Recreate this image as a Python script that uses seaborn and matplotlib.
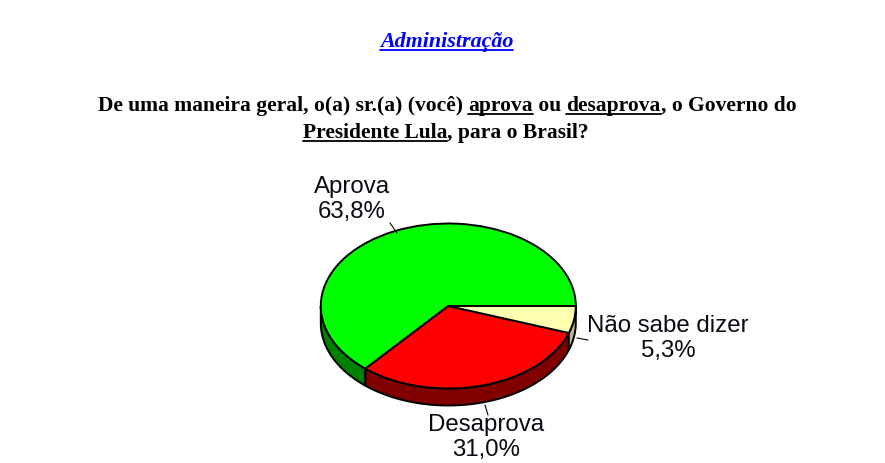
import numpy as np
import matplotlib
matplotlib.use("Agg")
import matplotlib.pyplot as plt
from matplotlib.lines import Line2D
from matplotlib.transforms import Affine2D
import seaborn as sns

categories = ["Aprova", "Desaprova", "Não sabe dizer"]
values = [63.8, 31.0, 5.3]
value_labels = ["63,8%", "31,0%", "5,3%"]
top_colors = ["#00FF00", "#FF0000", "#FFFFB0"]
wall_colors = ["#008000", "#800000", "#B8B894"]

title_text = "Administração"
line1 = [("De uma maneira geral, o(a) sr.(a) (você) ", False), ("aprova", True), (" ou ", False),
         ("desaprova", True), (", o Governo do", False)]
line2 = [("Presidente Lula", True), (", para o Brasil?", False)]

W, H = 885, 463
sns.set_theme(style="white")
fig = plt.figure(figsize=(W / 100, H / 100), dpi=100, facecolor="white")
px = Affine2D().scale(1, -1).translate(0, H)

cx, cy, rx, ry, depth = 448.3, 306.0, 127.5, 82.5, 17.0
ax = fig.add_axes([(cx - rx) / W, (H - cy - ry - depth) / H, 2 * rx / W, (2 * ry + depth) / H])
d = depth / ry
ax.pie(values, colors=top_colors, startangle=0, counterclock=True,
       wedgeprops=dict(edgecolor="black", linewidth=1.4, clip_on=False, zorder=3))
ax.set_aspect("auto")
ax.set_xlim(-1, 1)
ax.set_ylim(-1 - d, 1)

# Side wall of the disc, from the same shares as the top
shares = np.array(values) / sum(values) * 360
edges = np.concatenate([[0], np.cumsum(shares)])
for a0, a1, col in zip(edges[:-1], edges[1:], wall_colors):
    lo, hi = max(a0, 180), min(a1, 360)
    if hi <= lo:
        continue
    th = np.radians(np.linspace(lo, hi, 80))
    xs = np.concatenate([np.cos(th), np.cos(th[::-1])])
    ys = np.concatenate([np.sin(th), np.sin(th[::-1]) - d])
    ax.fill(xs, ys, facecolor=col, edgecolor="black", linewidth=1.4, clip_on=False, zorder=2)

# Pie labels
label_font = dict(family="Liberation Sans", fontsize=17.3, color="#0a0a14", transform=px,
                  ha="center", va="baseline")
label_pos = [(352, 193), (486, 431), (668, 332)]
for name, val, (x, y) in zip(categories, value_labels, label_pos):
    fig.text(x, y, name, **label_font)
    fig.text(x, y + 25, val, **label_font)

for (x0, y0), (x1, y1) in [((390, 223), (397, 233)), ((485, 405), (488, 415)), ((577, 338), (588, 340))]:
    fig.add_artist(Line2D([x0, x1], [y0, y1], color="black", lw=0.8, transform=px))

# Titles with underlined segments
renderer = fig.canvas.get_renderer()

def text_width(s, **kw):
    t = fig.text(0, 0, s + "x", **kw)
    w1 = t.get_window_extent(renderer).width
    t.set_text("x")
    w2 = t.get_window_extent(renderer).width
    t.remove()
    return w1 - w2

def draw_line(segments, xc, y, color="black", lw=1.3, **kw):
    whole = "".join(s for s, _ in segments)
    total = text_width(whole, **kw)
    x0 = xc - total / 2
    prefix = ""
    for s, under in segments:
        xs = x0 + (text_width(prefix, **kw) if prefix else 0)
        fig.text(xs, y, s, transform=px, ha="left", va="baseline", color=color, **kw)
        if under:
            xe = xs + text_width(s, **kw)
            fig.add_artist(Line2D([xs, xe], [y + 3, y + 3], color=color, lw=lw, transform=px))
        prefix += s

serif = dict(family="Liberation Serif", fontweight="bold", fontsize=15.45)
draw_line(line1, 447, 111, **serif)
draw_line(line2, 446, 138, **serif)
draw_line([(title_text, True)], 446.5, 47, color="#0000FF",
          family="Liberation Serif", fontweight="bold", fontstyle="italic", fontsize=15.8)

fig.savefig("out.png", dpi=100, facecolor="white")
